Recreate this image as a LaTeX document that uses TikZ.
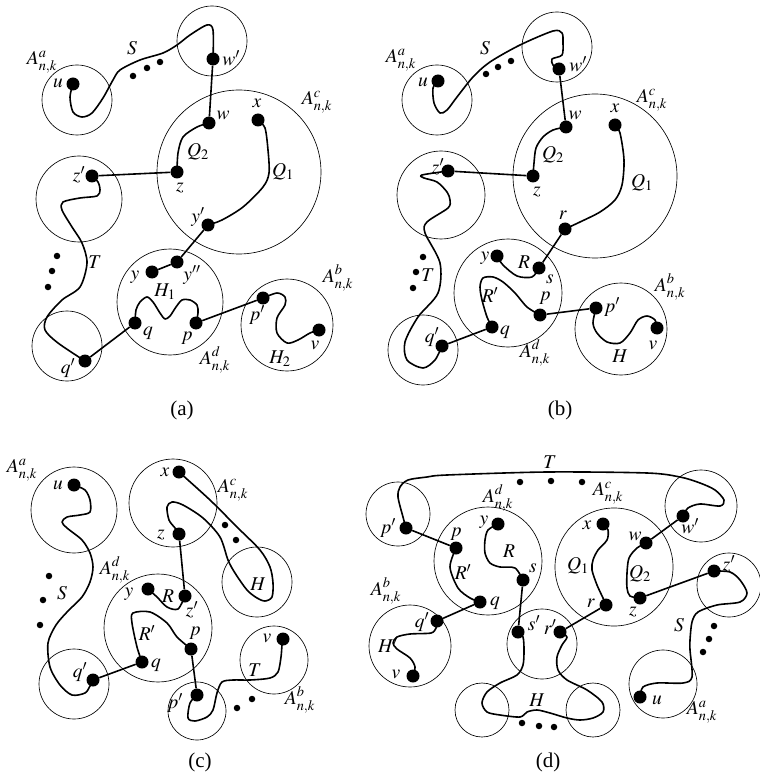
\documentclass[tikz,border=0pt]{standalone}
\usepackage{mathptmx}
\usepackage[no-math]{fontspec}
\setmainfont{Liberation Serif}
\tikzset{
 vtx/.style={circle,fill=black,inner sep=0pt,minimum size=13pt},
 edot/.style={circle,fill=black,inner sep=0pt,minimum size=6.5pt},
 reg/.style={circle,draw=black,line width=0.65pt,inner sep=0pt},
 pth/.style={line width=1.6pt,line cap=round,line join=round},
 edg/.style={line width=1.6pt},
 lbl/.style={inner sep=0pt,font=\fontsize{19.5}{22}\selectfont},
 captn/.style={inner sep=0pt,font=\fontsize{21}{24}\selectfont}
}
\begin{document}
\begin{tikzpicture}[x=1pt,y=-1pt]
\useasboundingbox (0,0) rectangle (759,775);
% ================= (a) =================
\node[reg,minimum size=70pt] (aA) at (77,100) {};
\node[reg,minimum size=70pt] (aW) at (212,41) {};
\node[reg,minimum size=164pt] (aC) at (239,172) {};
\node[reg,minimum size=86pt] (aZ) at (79,199) {};
\node[reg,minimum size=70pt] (aQ) at (67,346) {};
\node[reg,minimum size=106pt] (aD) at (170,302) {};
\node[reg,minimum size=92pt] (aB) at (287,325) {};
\node[vtx] (au) at (73,84) {};
\node[vtx] (awp) at (213,59) {};
\node[vtx] (aw) at (209,123) {};
\node[vtx] (ax) at (258,120) {};
\node[vtx] (az) at (177,172) {};
\node[vtx] (azp) at (92,176) {};
\node[vtx] (ayp) at (208,225) {};
\node[vtx] (aypp) at (177,262) {};
\node[vtx] (ay) at (152,272) {};
\node[vtx] (aq) at (135,323) {};
\node[vtx] (ap) at (196,323) {};
\node[vtx] (aqp) at (85,361) {};
\node[vtx] (app) at (263,298) {};
\node[vtx] (av) at (319,330) {};
\draw[pth] plot[smooth] coordinates {(au.center) (70,97) (73,112) (82,117) (92,113) (103,98) (113,80) (120,70) (140,60) (163,53) (177,45) (190,35) (207,25) (213,30) (awp.center)};
\draw[pth] plot[smooth] coordinates {(aw.center) (197,127) (183,137) (178,153) (az.center)};
\draw[pth] plot[smooth] coordinates {(ax.center) (265,128) (268,150) (269,173) (263,187) (243,207) (222,220) (ayp.center)};
\draw[pth] plot[smooth] coordinates {(azp.center) (98,182) (100,190) (97,196) (80,198) (63,202) (62,210) (72,227) (82,243) (87,263) (80,287) (62,300) (47,317) (45,330) (58,343) (aqp.center)};
\draw[pth] plot[smooth] coordinates {(aq.center) (136,310) (140,302) (147,297) (153,302) (160,313) (165,319) (170,316) (176,307) (182,300) (190,300) (197,305) (198,313) (ap.center)};
\draw[pth] plot[smooth] coordinates {(app.center) (277,293) (285,297) (285,305) (277,318) (277,333) (287,343) (298,340) (310,333) (av.center)};
\draw[edg] (awp) -- (aw);
\draw[edg] (azp) -- (az);
\draw[edg] (ayp) -- (aypp);
\draw[edg] (aypp) -- (ay);
\draw[edg] (aq) -- (aqp);
\draw[edg] (ap) -- (app);
\node[edot] (ad1) at (133,76) {};
\node[edot] (ad2) at (147,68) {};
\node[edot] (ad3) at (160,62) {};
\node[edot] (ad4) at (57,256) {};
\node[edot] (ad5) at (52,271) {};
\node[edot] (ad6) at (48,287) {};
\node[lbl] (alA) at (42,62) {$A^{a}_{n,k}$};
\node[lbl] (alS) at (132,48) {$S$};
\node[lbl] (alu) at (58,83) {$u$};
\node[lbl] (alwp) at (231,58) {$w'$};
\node[lbl] (alC) at (317,102) {$A^{c}_{n,k}$};
\node[lbl] (alw) at (223,115) {$w$};
\node[lbl] (alx) at (257,103) {$x$};
\node[lbl] (alQ2) at (198,152) {$Q_2$};
\node[lbl] (alQ1) at (283,172) {$Q_1$};
\node[lbl] (alz) at (180,188) {$z$};
\node[lbl] (alzp) at (79,175) {$z'$};
\node[lbl] (alyp) at (198,217) {$y'$};
\node[lbl] (alypp) at (192,275) {$y''$};
\node[lbl] (aly) at (135,277) {$y$};
\node[lbl] (alT) at (95,262) {$T$};
\node[lbl] (alH1) at (165,292) {$H_1$};
\node[lbl] (alq) at (148,333) {$q$};
\node[lbl] (alp) at (187,338) {$p$};
\node[lbl] (alpp) at (257,315) {$p'$};
\node[lbl] (alB) at (338,278) {$A^{b}_{n,k}$};
\node[lbl] (alD) at (215,360) {$A^{d}_{n,k}$};
\node[lbl] (alv) at (315,345) {$v$};
\node[lbl] (alH2) at (280,359) {$H_2$};
\node[lbl] (alqp) at (68,368) {$q'$};
\node[captn] (capa) at (182,410) {(a)};
% ================= (b) =================
\node[reg,minimum size=70pt] (bA) at (437,100) {};
\node[reg,minimum size=70pt] (bW) at (557,47) {};
\node[reg,minimum size=164pt] (bC) at (595,176) {};
\node[reg,minimum size=88pt] (bZ) at (441,195) {};
\node[reg,minimum size=70pt] (bQ) at (423,350) {};
\node[reg,minimum size=108pt] (bD) at (508,293) {};
\node[reg,minimum size=92pt] (bB) at (621,329) {};
\node[vtx] (bu) at (438,81) {};
\node[vtx] (bwp) at (559,69) {};
\node[vtx] (bw) at (566,127) {};
\node[vtx] (bx) at (615,125) {};
\node[vtx] (bz) at (533,176) {};
\node[vtx] (bzp) at (448,171) {};
\node[vtx] (bqp) at (442,346) {};
\node[vtx] (br) at (565,229) {};
\node[vtx] (bs) at (539,268) {};
\node[vtx] (by) at (497,256) {};
\node[vtx] (bp) at (540,315) {};
\node[vtx] (bq) at (492,327) {};
\node[vtx] (bpp) at (596,308) {};
\node[vtx] (bv) at (657,328) {};
\draw[pth] plot[smooth] coordinates {(bu.center) (433,88) (434,103) (440,113) (447,110) (457,97) (473,77) (490,62) (520,45) (553,31) (562,33) (563,43) (562,55) (552,59) (553,65) (bwp.center)};
\draw[pth] plot[smooth] coordinates {(bw.center) (553,130) (543,137) (536,148) (534,163) (bz.center)};
\draw[pth] plot[smooth] coordinates {(bx.center) (620,133) (624,160) (622,185) (615,200) (600,212) (580,222) (br.center)};
\draw[pth] plot[smooth] coordinates {(bzp.center) (422,175) (424,178) (437,182) (447,192) (450,200) (448,208) (427,222) (425,233) (440,263) (438,293) (418,317) (405,342) (407,360) (423,368) (435,360) (bqp.center)};
\draw[pth] plot[smooth] coordinates {(by.center) (503,265) (517,276) (532,277) (bs.center)};
\draw[pth] plot[smooth] coordinates {(bq.center) (487,317) (482,300) (480,287) (483,278) (493,277) (503,282) (515,293) (527,307) (bp.center)};
\draw[pth] plot[smooth] coordinates {(bpp.center) (593,323) (597,333) (607,342) (620,343) (630,333) (638,320) (647,316) (655,320) (bv.center)};
\draw[edg] (bwp) -- (bw);
\draw[edg] (bzp) -- (bz);
\draw[edg] (br) -- (bs);
\draw[edg] (bq) -- (bqp);
\draw[edg] (bp) -- (bpp);
\node[edot] (bd1) at (486,74) {};
\node[edot] (bd2) at (498,67) {};
\node[edot] (bd3) at (511,61) {};
\node[edot] (bd4) at (423,257) {};
\node[edot] (bd5) at (416,272) {};
\node[edot] (bd6) at (413,288) {};
\node[lbl] (blA) at (401,60) {$A^{a}_{n,k}$};
\node[lbl] (blu) at (423,82) {$u$};
\node[lbl] (blS) at (485,48) {$S$};
\node[lbl] (blwp) at (578,64) {$w'$};
\node[lbl] (blC) at (652,100) {$A^{c}_{n,k}$};
\node[lbl] (blw) at (575,115) {$w$};
\node[lbl] (blx) at (615,108) {$x$};
\node[lbl] (blQ2) at (553,155) {$Q_2$};
\node[lbl] (blz) at (537,192) {$z$};
\node[lbl] (blQ1) at (642,183) {$Q_1$};
\node[lbl] (blzp) at (438,167) {$z'$};
\node[lbl] (blqp) at (432,337) {$q'$};
\node[lbl] (blT) at (428,275) {$T$};
\node[lbl] (blr) at (563,215) {$r$};
\node[lbl] (blD) at (535,353) {$A^{d}_{n,k}$};
\node[lbl] (bls) at (550,279) {$s$};
\node[lbl] (bly) at (485,258) {$y$};
\node[lbl] (blR) at (524,262) {$R$};
\node[lbl] (blp) at (545,298) {$p$};
\node[lbl] (blq) at (505,332) {$q$};
\node[lbl] (blRp) at (490,295) {$R'$};
\node[lbl] (blpp) at (612,307) {$p'$};
\node[lbl] (blB) at (670,287) {$A^{b}_{n,k}$};
\node[lbl] (blv) at (653,345) {$v$};
\node[lbl] (blH) at (620,356) {$H$};
\node[captn] (capb) at (560,410) {(b)};
% ================= (c) =================
\node[reg,minimum size=86pt] (cA) at (74,510) {};
\node[reg,minimum size=88pt] (cC) at (173,503) {};
\node[reg,minimum size=70pt] (cH) at (257,582) {};
\node[reg,minimum size=108pt] (cD) at (158,628) {};
\node[reg,minimum size=70pt] (cQ) at (74,684) {};
\node[reg,minimum size=58pt] (cP) at (197,711) {};
\node[reg,minimum size=68pt] (cT) at (274,660) {};
\node[vtx] (cu) at (74,485) {};
\node[vtx] (cx) at (179,472) {};
\node[vtx] (cz) at (179,534) {};
\node[vtx] (czp) at (185,596) {};
\node[vtx] (cy) at (148,589) {};
\node[vtx] (cp) at (191,649) {};
\node[vtx] (cq) at (142,662) {};
\node[vtx] (cqp) at (93,680) {};
\node[vtx] (cpp) at (197,695) {};
\node[vtx] (cv) at (283,639) {};
\draw[pth] plot[smooth] coordinates {(cu.center) (85,490) (90,500) (90,512) (80,515) (67,517) (62,522) (67,528) (82,540) (90,553) (93,567) (90,582) (82,597) (68,611) (56,625) (48,643) (50,667) (60,685) (72,695) (85,693) (90,686) (cqp.center)};
\draw[pth] plot[smooth] coordinates {(cx.center) (210,500) (237,527) (260,550) (270,567) (273,583) (272,597) (265,601) (257,598) (247,590) (235,573) (228,560) (220,537) (203,518) (183,505) (172,502) (167,507) (169,520) (175,528) (cz.center)};
\draw[pth] plot[smooth] coordinates {(cy.center) (157,597) (167,607) (178,609) (czp.center)};
\draw[pth] plot[smooth] coordinates {(cq.center) (137,647) (132,623) (133,613) (150,612) (167,623) (177,637) (cp.center)};
\draw[pth] plot[smooth] coordinates {(cpp.center) (190,703) (188,718) (195,721) (207,717) (213,710) (217,693) (222,682) (233,680) (250,680) (270,678) (278,672) (281,657) (282,645) (cv.center)};
\draw[edg] (cz) -- (czp);
\draw[edg] (cq) -- (cqp);
\draw[edg] (cp) -- (cpp);
\node[edot] (cd1) at (49,576) {};
\node[edot] (cd2) at (43,600) {};
\node[edot] (cd3) at (40,625) {};
\node[edot] (cd4) at (225,525) {};
\node[edot] (cd5) at (236,540) {};
\node[edot] (cd6) at (237,708) {};
\node[edot] (cd7) at (252,699) {};
\node[lbl] (clA) at (22,470) {$A^{a}_{n,k}$};
\node[lbl] (clu) at (58,485) {$u$};
\node[lbl] (clC) at (233,490) {$A^{c}_{n,k}$};
\node[lbl] (clx) at (165,472) {$x$};
\node[lbl] (clz) at (161,535) {$z$};
\node[lbl] (clH) at (258,584) {$H$};
\node[lbl] (clD) at (115,570) {$A^{d}_{n,k}$};
\node[lbl] (clS) at (62,593) {$S$};
\node[lbl] (cly) at (129,594) {$y$};
\node[lbl] (clR) at (168,596) {$R$};
\node[lbl] (clzp) at (192,610) {$z'$};
\node[lbl] (clRp) at (147,633) {$R'$};
\node[lbl] (clp) at (195,633) {$p$};
\node[lbl] (clq) at (156,665) {$q$};
\node[lbl] (clqp) at (80,672) {$q'$};
\node[lbl] (clpp) at (175,703) {$p'$};
\node[lbl] (clT) at (255,670) {$T$};
\node[lbl] (clv) at (267,638) {$v$};
\node[lbl] (clB) at (300,700) {$A^{b}_{n,k}$};
\node[captn] (capc) at (200,762) {(c)};
% ================= (d) =================
\node[reg,minimum size=64pt] (dP) at (398,514) {};
\node[reg,minimum size=72pt] (dW) at (701,506) {};
\node[reg,minimum size=108pt] (dD) at (488,561) {};
\node[reg,minimum size=118pt] (dC) at (614,567) {};
\node[reg,minimum size=64pt] (dZ) at (729,585) {};
\node[reg,minimum size=68pt] (dA) at (663,684) {};
\node[reg,minimum size=70pt] (dS) at (542,644) {};
\node[reg,minimum size=54pt] (dH1) at (482,710) {};
\node[reg,minimum size=54pt] (dH2) at (593,710) {};
\node[reg,minimum size=82pt] (dB) at (410,646) {};
\node[vtx] (dpp) at (406,528) {};
\node[vtx] (dp) at (456,548) {};
\node[vtx] (dq) at (480,602) {};
\node[vtx] (dy) at (498,524) {};
\node[vtx] (ds) at (523,580) {};
\node[vtx] (dx) at (603,524) {};
\node[vtx] (dr) at (606,605) {};
\node[vtx] (dw) at (646,543) {};
\node[vtx] (dz) at (640,598) {};
\node[vtx] (dwp) at (683,516) {};
\node[vtx] (dzp) at (714,571) {};
\node[vtx] (du) at (640,697) {};
\node[vtx] (dsp) at (518,632) {};
\node[vtx] (drp) at (560,632) {};
\node[vtx] (dqp) at (437,621) {};
\node[vtx] (dv) at (413,676) {};
\draw[pth] plot[smooth] coordinates {(dpp.center) (403,517) (398,497) (400,487) (408,480) (427,477) (447,475) (547,472) (647,473) (680,477) (700,483) (715,490) (724,500) (720,506) (700,504) (688,508) (dwp.center)};
\draw[pth] plot[smooth] coordinates {(dp.center) (450,567) (458,588) (470,598) (dq.center)};
\draw[pth] plot[smooth] coordinates {(dy.center) (488,530) (485,540) (485,553) (490,563) (500,567) (515,568) (ds.center)};
\draw[pth] plot[smooth] coordinates {(dx.center) (608,530) (607,540) (598,550) (593,560) (592,570) (597,585) (603,598) (dr.center)};
\draw[pth] plot[smooth] coordinates {(dw.center) (637,548) (629,558) (627,573) (627,588) (630,596) (dz.center)};
\draw[pth] plot[smooth] coordinates {(dzp.center) (730,572) (740,580) (747,593) (740,602) (717,605) (698,612) (692,622) (690,640) (690,650) (692,677) (683,683) (657,683) (643,687) (du.center)};
\draw[pth] plot[smooth] coordinates {(dqp.center) (436,628) (431,633) (410,634) (397,637) (393,643) (397,649) (410,658) (415,667) (dv.center)};
\draw[pth] plot[smooth] coordinates {(dsp.center) (523,637) (524,650) (523,665) (517,675) (500,683) (487,692) (482,703) (487,712) (500,715) (520,717) (527,712) (537,710) (550,713) (567,718) (580,720) (593,718) (603,712) (602,702) (587,690) (567,680) (558,670) (557,657) (562,645) (567,637) (drp.center)};
\draw[edg] (dpp) -- (dp);
\draw[edg] (dq) -- (dqp);
\draw[edg] (ds) -- (dsp);
\draw[edg] (dr) -- (drp);
\draw[edg] (dw) -- (dwp);
\draw[edg] (dz) -- (dzp);
\node[edot] (dd1) at (520,482) {};
\node[edot] (dd2) at (551,481) {};
\node[edot] (dd3) at (582,482) {};
\node[edot] (dd4) at (522,723) {};
\node[edot] (dd5) at (539,726) {};
\node[edot] (dd6) at (554,727) {};
\node[edot] (dd7) at (714,626) {};
\node[edot] (dd8) at (709,639) {};
\node[edot] (dd9) at (703,652) {};
\node[lbl] (dlT) at (550,462) {$T$};
\node[lbl] (dlD) at (498,498) {$A^{d}_{n,k}$};
\node[lbl] (dlC) at (608,493) {$A^{c}_{n,k}$};
\node[lbl] (dlpp) at (388,528) {$p'$};
\node[lbl] (dlp) at (456,534) {$p$};
\node[lbl] (dlRp) at (463,572) {$R'$};
\node[lbl] (dlq) at (495,603) {$q$};
\node[lbl] (dly) at (484,522) {$y$};
\node[lbl] (dlR) at (509,551) {$R$};
\node[lbl] (dls) at (533,568) {$s$};
\node[lbl] (dlx) at (587,525) {$x$};
\node[lbl] (dlQ1) at (578,566) {$Q_1$};
\node[lbl] (dlr) at (591,603) {$r$};
\node[lbl] (dlw) at (635,536) {$w$};
\node[lbl] (dlQ2) at (640,574) {$Q_2$};
\node[lbl] (dlz) at (633,612) {$z$};
\node[lbl] (dlwp) at (690,526) {$w'$};
\node[lbl] (dlzp) at (729,564) {$z'$};
\node[lbl] (dlS) at (679,625) {$S$};
\node[lbl] (dlu) at (657,700) {$u$};
\node[lbl] (dlA) at (702,712) {$A^{a}_{n,k}$};
\node[lbl] (dlsp) at (534,623) {$s'$};
\node[lbl] (dlrp) at (550,627) {$r'$};
\node[lbl] (dlH) at (537,700) {$H$};
\node[lbl] (dlB) at (386,591) {$A^{b}_{n,k}$};
\node[lbl] (dlqp) at (422,622) {$q'$};
\node[lbl] (dlHp) at (388,645) {$H'$};
\node[lbl] (dlv) at (396,674) {$v$};
\node[captn] (capd) at (548,762) {(d)};
\end{tikzpicture}
\end{document}
